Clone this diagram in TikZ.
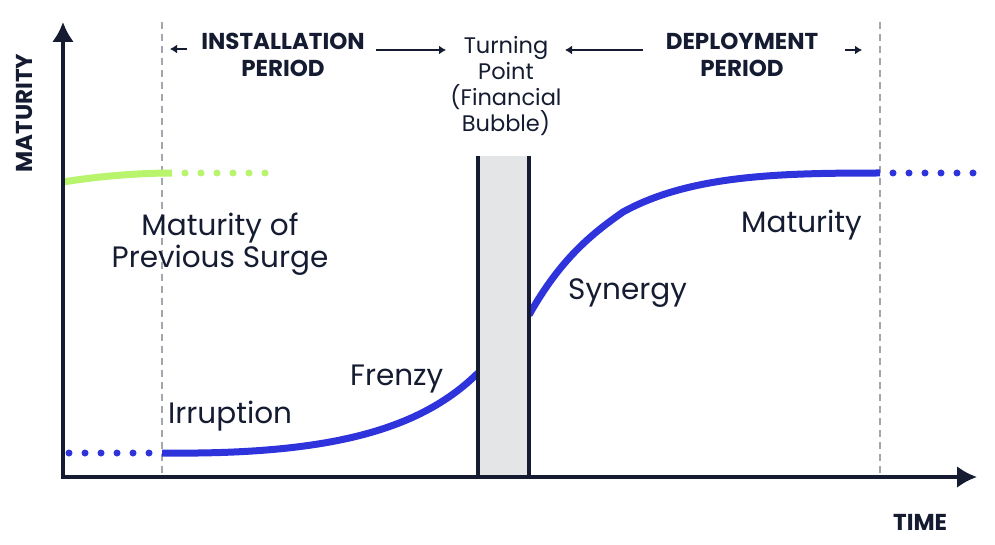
\documentclass[tikz,border=0pt]{standalone}
\usepackage{fontspec}
\setmainfont{Poppins}
\usetikzlibrary{arrows.meta,positioning}
\definecolor{navy}{HTML}{151C32}
\definecolor{surgeblue}{HTML}{2E33DC}
\definecolor{surgegreen}{HTML}{B8F56C}
\definecolor{guidegray}{HTML}{A3A6AD}
\definecolor{bubblefill}{HTML}{E4E5E7}
\tikzset{>={Latex[length=7pt,width=9pt]},
  axis/.style={navy,line width=3.5pt,{Latex[length=20pt,width=22pt]}-{Latex[length=20pt,width=22pt]}},
  period/.style={font=\bfseries\fontsize{23}{27}\selectfont,text=navy,align=center,inner sep=0pt},
  turnlabel/.style={font=\fontsize{22.5}{26}\selectfont,text=navy,align=center,inner sep=0pt},
  phase/.style={font=\fontsize{29.5}{32}\selectfont,text=navy,align=center,inner sep=0pt},
  axislabel/.style={font=\bfseries\fontsize{23}{26}\selectfont,text=navy,inner sep=0pt},
  pointer/.style={navy,line width=1.5pt,->},
  guideline/.style={guidegray,line width=1.2pt,dash pattern=on 7pt off 5pt},
  bubbleline/.style={navy,line width=4pt},
  wave/.style={line width=7pt}}

\begin{document}
\begin{tikzpicture}[x=1pt,y=-1pt]
    \useasboundingbox (0,0) rectangle (995,545);
    % period boundaries
    \draw[guideline] (162,22) -- (162,477);
    \draw[guideline] (880,22) -- (880,477);
    % surges
    \draw[wave,surgegreen] (63,182) .. controls (100,176) and (140,173) .. (172,173);
    \foreach \x in {185,201,...,265} \fill[surgegreen] (\x,173) circle (3.5pt);
    \foreach \x in {69,85,...,149} \fill[surgeblue] (\x,453) circle (3.5pt);
    \draw[wave,surgeblue] (162,453) .. controls (330,455) and (420,430) .. (478,373);
    \draw[wave,surgeblue] (529,315) .. controls (560,260) and (590,235) .. (623,212)
        .. controls (690,175) and (780,173) .. (880,173);
    \foreach \x in {893,909,...,973} \fill[surgeblue] (\x,173) circle (3.5pt);
    % turning point
    \fill[bubblefill] (478,156) rectangle (529,477);
    \draw[bubbleline] (478,156) -- (478,477) (529,156) -- (529,477);
    % axes
    \coordinate (origin) at (63,477);
    \coordinate (ytip) at (63,22);
    \coordinate (xtip) at (977,477);
    \draw[axis] (ytip) -- (origin) -- (xtip);
    \node[axislabel,rotate=90,anchor=base] (maturity) at (32,113) {MATURITY};
    \node[axislabel,anchor=base west] (time) at (893,530) {TIME};
    % labels
    \node[period,anchor=north] (install) at (283,33) {INSTALLATION\\PERIOD};
    \node[period,anchor=north] (deploy) at (742,33) {DEPLOYMENT\\PERIOD};
    \node[turnlabel,anchor=north] (turn) at (506,36) {Turning\\Point\\(Financial\\Bubble)};
    \node[phase,anchor=north] (previous) at (220,213) {Maturity of\\Previous Surge};
    \node[phase,anchor=base west] (irruption) at (168,423) {Irruption};
    \node[phase,anchor=base west] (frenzy) at (350,385) {Frenzy};
    \node[phase,anchor=base west] (synergy) at (568,299) {Synergy};
    \node[phase,anchor=base west] (mature) at (741,233) {Maturity};
    % period arrows
    \coordinate (install-from) at (187,49);
    \coordinate (install-back) at (170,49);
    \coordinate (install-to) at (376,50);
    \coordinate (install-fwd) at (446,50);
    \coordinate (deploy-from) at (643,50);
    \coordinate (deploy-back) at (565,50);
    \coordinate (deploy-to) at (845,50);
    \coordinate (deploy-fwd) at (862,50);
    \draw[pointer] (install-from) -- (install-back);
    \draw[pointer] (install-to) -- (install-fwd);
    \draw[pointer] (deploy-from) -- (deploy-back);
    \draw[pointer] (deploy-to) -- (deploy-fwd);
\end{tikzpicture}
\end{document}
